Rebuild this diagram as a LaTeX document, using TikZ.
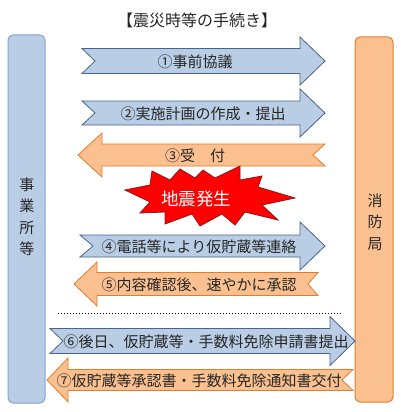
\documentclass[tikz,border=0pt]{standalone}
\usepackage{fontspec}
\setmainfont{Noto Sans CJK JP}
\definecolor{bluefill}{RGB}{185,205,229}
\definecolor{blueline}{RGB}{70,100,140}
\definecolor{barblueline}{RGB}{130,162,205}
\definecolor{orfill}{RGB}{250,192,144}
\definecolor{orline}{RGB}{225,125,45}
\definecolor{txt}{RGB}{38,38,38}
\definecolor{burstred}{RGB}{255,0,0}
\definecolor{burstline}{RGB}{150,20,20}
\newcommand\rightarr[8]{%
  \draw[#8] (#1,#5-#6) -- (#3,#5-#6) -- (#3,#5-#7) -- (#4,#5) -- (#3,#5+#7) -- (#3,#5+#6) -- (#1,#5+#6) -- (#1+#2,#5) -- cycle;}
\newcommand\leftarr[8]{%
  \draw[#8] (#1,#5-#6) -- (#3,#5-#6) -- (#3,#5-#7) -- (#4,#5) -- (#3,#5+#7) -- (#3,#5+#6) -- (#1,#5+#6) -- (#1-#2,#5) -- cycle;}
\begin{document}
\begin{tikzpicture}[x=1pt,y=-1pt,
  barL/.style={draw=barblueline,fill=bluefill,line width=1pt,rounded corners=5pt},
  barR/.style={draw=orline,fill=orfill,line width=1pt,rounded corners=5pt},
  bluearr/.style={draw=blueline,fill=bluefill,line width=0.8pt,line join=miter},
  orarr/.style={draw=orline,fill=orfill,line width=0.8pt,line join=miter},
  arrtext/.style={text=txt,font=\fontsize{15}{15}\selectfont,inner sep=0pt},
  vtext/.style={text=txt,font=\fontsize{15}{21.5}\selectfont,align=center,inner sep=0pt}]
\useasboundingbox (0,0) rectangle (400,412);
% title
\node[text=txt,font=\fontsize{16}{16}\selectfont] (title) at (197,20) {【震災時等の手続き】};
% side bars
\draw[barL] (8,35) rectangle (45,403);
\draw[barR] (355,37) rectangle (393,402);
\node[vtext] (left) at (27,217) {事\\業\\所\\等};
\node[vtext] (right) at (375,222) {消\\防\\局};
% arrows
\rightarr{82}{13}{300}{325}{61}{12.5}{24}{bluearr}
\node[arrtext] (t1) at (195,62) {①事前協議};
\rightarr{82}{13}{300}{325}{113}{12}{24}{bluearr}
\node[arrtext] (t2) at (203,114) {②実施計画の作成・提出};
\leftarr{325}{12}{102}{78}{155}{11}{22}{orarr}
\node[arrtext] (t3) at (195,156) {③受\hspace{1em}付};
\rightarr{80}{13}{300}{325}{246}{11}{24}{bluearr}
\node[arrtext] (t4) at (199,247) {④電話等により仮貯蔵等連絡};
\leftarr{318}{10}{97}{74}{284}{11.5}{22}{orarr}
\node[arrtext] (t5) at (199,285) {⑤内容確認後、速やかに承認};
\draw[dotted,line width=1pt] (58,313) -- (341,313);
\rightarr{50}{13}{330}{355}{341}{12.5}{24.5}{bluearr}
\node[arrtext] (t6) at (206,342) {⑥後日、仮貯蔵等・手数料免除申請書提出};
\leftarr{353}{11}{68}{47}{380}{10.5}{22}{orarr}
\node[arrtext] (t7) at (199,381) {⑦仮貯蔵等承認書・手数料免除通知書交付};
% starburst
\draw[draw=burstline,fill=burstred,line width=0.8pt,line join=miter]
  (125,190) -- (150,185) -- (152,171) -- (170,180) -- (180,169) -- (195,178)
  -- (203,170) -- (215,178) -- (240,166) -- (240,180) -- (262,176) -- (258,187)
  -- (295,198) -- (262,205) -- (278,220) -- (245,212) -- (235,225) -- (222,214)
  -- (200,226) -- (192,214) -- (165,224) -- (165,212) -- (140,213) -- (150,202) -- cycle;
\node[text=white,font=\fontsize{17.5}{17.5}\selectfont,inner sep=0pt] (quake) at (196,199) {地震発生};
\end{tikzpicture}
\end{document}
